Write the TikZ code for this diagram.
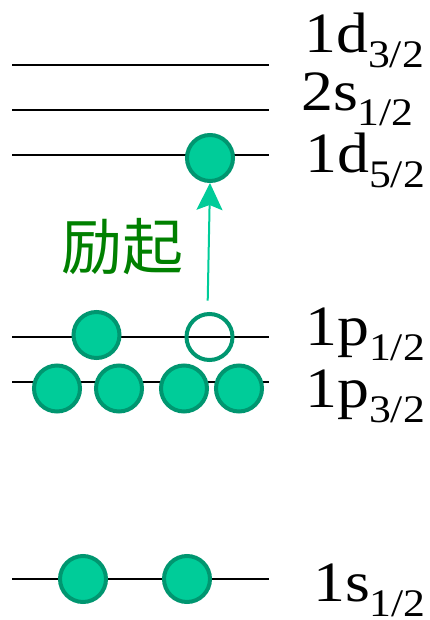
\documentclass[tikz,border=0pt]{standalone}
\usepackage{fontspec}
\setmainfont{Liberation Serif}
\newfontfamily\cjk{Noto Sans CJK SC}
\usetikzlibrary{arrows.meta}
\definecolor{efill}{RGB}{0,204,153}
\definecolor{edraw}{RGB}{0,150,112}
\definecolor{cngreen}{RGB}{0,128,0}
\newcommand\lsub[1]{\raisebox{-15pt}{\fontsize{39}{39}\selectfont #1}}
\tikzset{
  level/.style={line width=2pt, black},
  elec/.style={circle, minimum size=46pt, inner sep=0pt, line width=4pt, draw=edraw, fill=efill},
  hole/.style={circle, minimum size=46pt, inner sep=0pt, line width=4pt, draw=edraw},
  lab/.style={anchor=base west, inner sep=0pt, xscale=1.12, font=\fontsize{57}{60}\selectfont},
  excite/.style={draw=efill, line width=2pt, -{Stealth[width=26pt,length=27pt,inset=5pt]}}
}
\begin{document}
\begin{tikzpicture}[x=1pt,y=-1pt]
\useasboundingbox (0,0) rectangle (430,620);
% level lines
\foreach \n/\y in {d3/65, s2/110, d5/155.5, p1/337, p3/382, s1/579}{
  \coordinate (\n L) at (12,\y);
  \coordinate (\n R) at (269,\y);
  \draw[level] (\n L) -- (\n R);
}
% labels
\node[lab] (ld3) at (304,53) {1d\lsub{3/2}};
\node[lab] (ls2) at (301,110.5) {2s\lsub{1/2}};
\node[lab] (ld5) at (305,173) {1d\lsub{5/2}};
\node[lab] (lp1) at (305,345) {1p\lsub{1/2}};
\node[lab] (lp3) at (305,407) {1p\lsub{3/2}};
\node[lab] (ls1) at (313,601.5) {1s\lsub{1/2}};
% electrons
\node[elec] (e1) at (210,158) {};
\node[elec] (e2) at (96.5,335) {};
\node[hole] (h1) at (209.5,337) {};
\node[elec] (e3) at (57,388.5) {};
\node[elec] (e4) at (119,388.5) {};
\node[elec] (e5) at (184,388.5) {};
\node[elec] (e6) at (239,388.5) {};
\node[elec] (e7) at (83,579) {};
\node[elec] (e8) at (187,579) {};
% excitation
\coordinate (astart) at (207.7,300.7);
\draw[excite] (astart) -- (e1.south);
\node[inner sep=0pt, text=cngreen, font=\cjk\fontsize{61}{61}\selectfont] (ex) at (122.5,246.5) {励起};
\end{tikzpicture}
\end{document}
